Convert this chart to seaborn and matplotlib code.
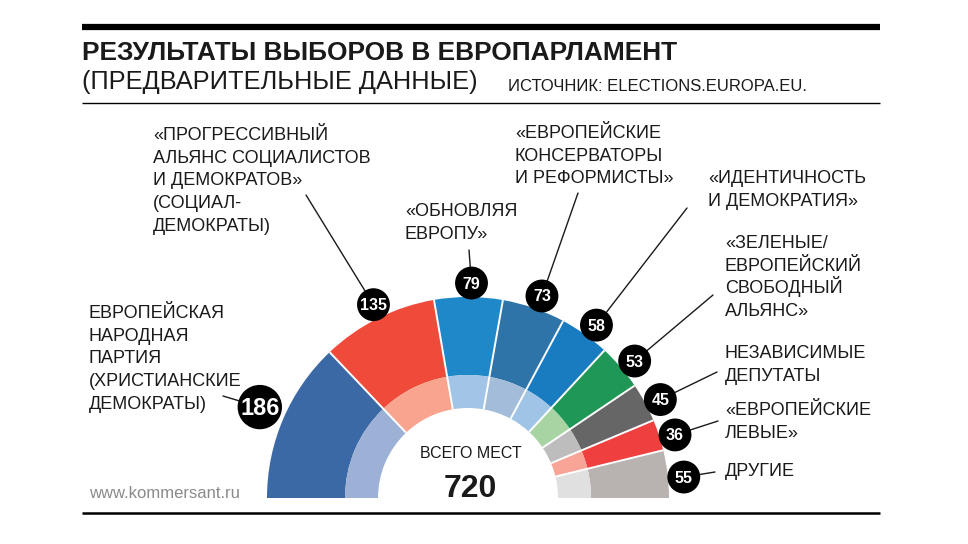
import numpy as np
import pandas as pd
import matplotlib
matplotlib.use("Agg")
import matplotlib.pyplot as plt
import seaborn as sns

# seats per group, left to right
seats = [186, 135, 79, 73, 58, 53, 45, 36, 55]
labels = [
    ["ЕВРОПЕЙСКАЯ", "НАРОДНАЯ", "ПАРТИЯ", "(ХРИСТИАНСКИЕ", "ДЕМОКРАТЫ)"],
    ["«ПРОГРЕССИВНЫЙ", "АЛЬЯНС СОЦИАЛИСТОВ", "И ДЕМОКРАТОВ»", "(СОЦИАЛ-", "ДЕМОКРАТЫ)"],
    ["«ОБНОВЛЯЯ", "ЕВРОПУ»"],
    ["«ЕВРОПЕЙСКИЕ", "КОНСЕРВАТОРЫ", "И РЕФОРМИСТЫ»"],
    ["«ИДЕНТИЧНОСТЬ", "И ДЕМОКРАТИЯ»"],
    ["«ЗЕЛЕНЫЕ/", "ЕВРОПЕЙСКИЙ", "СВОБОДНЫЙ", "АЛЬЯНС»"],
    ["НЕЗАВИСИМЫЕ", "ДЕПУТАТЫ"],
    ["«ЕВРОПЕЙСКИЕ", "ЛЕВЫЕ»"],
    ["ДРУГИЕ"],
]
outer_colors = ["#3a69a5", "#f04a3b", "#1f88c9", "#2f74a8", "#1a7cc0",
                "#1f9857", "#666666", "#ef3f3f", "#b8b3b1"]
inner_colors = ["#9db1d6", "#f9a48e", "#a2c4e6", "#a3bcd9", "#9fc4e6",
                "#a8d4a4", "#bdbdbd", "#f8a597", "#e0e0e0"]

# layout (pixel coordinates, y down)
label_pos = [(89, 318), (153, 140), (405, 216), (515, 138), (708, 183),
             (725, 248), (725, 358), (725, 415), (725, 476)]
leader_start = [(223, 396), (306, 195), (469, 250), (578, 193), (687, 208),
                (713, 295), (717, 372), (718, 421), (715, 472)]
line_step = 22.7

sns.set_theme(style="white")
plt.rcParams['font.family'] = ['Liberation Sans', 'DejaVu Sans']
ink = "#1a1a1a"

fig = plt.figure(figsize=(9.68, 5.44), dpi=100)
ax = fig.add_axes([0, 0, 1, 1])

cx, cy = 468, 498
r_out, r_mid, r_in = 201, 123, 90
total = sum(seats)

ax.pie(seats + [total], radius=r_out, center=(cx, cy), startangle=180,
       counterclock=True, colors=outer_colors + ["none"], frame=True,
       wedgeprops=dict(width=r_out - r_mid, linewidth=0))
ax.pie(seats + [total], radius=r_mid, center=(cx, cy), startangle=180,
       counterclock=True, colors=inner_colors + ["none"], frame=True,
       wedgeprops=dict(width=r_mid - r_in, linewidth=0))

cum = np.cumsum(seats)
theta_b = np.deg2rad(180 + 180 * cum[:-1] / total)
for t in theta_b:
    ax.plot([cx + r_in * np.cos(t), cx + r_out * np.cos(t)],
            [cy + r_in * np.sin(t), cy + r_out * np.sin(t)],
            color="white", lw=1.4, solid_capstyle="butt")

mid = np.deg2rad(180 + 180 * (cum - np.array(seats) / 2) / total + 0.8)
big = np.array(seats) == max(seats)
rb = np.where(big, 228, 217)
bub = pd.DataFrame({"x": cx + rb * np.cos(mid), "y": cy + 2 + rb * np.sin(mid),
                    "big": big, "seats": seats})

for (sx, sy), bx, by in zip(leader_start, bub.x, bub.y):
    ax.plot([sx, bx], [sy, by], color=ink, lw=1.0, zorder=3)

sns.scatterplot(data=bub, x="x", y="y", size="big", sizes={False: 560, True: 1020},
                color="black", linewidth=0, legend=False, ax=ax, zorder=4)
for _, row in bub.iterrows():
    ax.text(row.x, row.y + 1, str(row.seats), color="white", fontweight="bold",
            fontsize=17 if row.big else 11.5, ha="center", va="center", zorder=5)

for lines, (lx, ly) in zip(labels, label_pos):
    for i, ln in enumerate(lines):
        ax.text(lx, ly + i * line_step, ln, fontsize=13, color=ink,
                ha="left", va="baseline")

ax.text(471, 458, "ВСЕГО МЕСТ", fontsize=11.5, color=ink, ha="center", va="baseline")
ax.text(470, 497, str(total), fontsize=23, fontweight="bold", color=ink,
        ha="center", va="baseline")

ax.text(82, 60, "РЕЗУЛЬТАТЫ ВЫБОРОВ В ЕВРОПАРЛАМЕНТ", fontsize=18.9,
        fontweight="bold", color=ink, ha="left", va="baseline")
ax.text(82, 89, "(ПРЕДВАРИТЕЛЬНЫЕ ДАННЫЕ)", fontsize=18.3, color=ink,
        ha="left", va="baseline")
ax.text(508, 91, "ИСТОЧНИК: ELECTIONS.EUROPA.EU.", fontsize=12, color=ink,
        ha="left", va="baseline")
ax.text(89, 498, "www.kommersant.ru", fontsize=12, color="#8a8a8a",
        ha="left", va="baseline")

ax.plot([82, 880], [27, 27], color="black", lw=4.5, solid_capstyle="butt")
ax.plot([82, 880], [103, 103], color="black", lw=1.0, solid_capstyle="butt")
ax.plot([82, 880], [513, 513], color="black", lw=1.8, solid_capstyle="butt")

ax.set_xlim(0, 968)
ax.set_ylim(544, 0)
ax.set_aspect("equal")
ax.axis("off")

fig.savefig("out.png", dpi=100, facecolor="white")
